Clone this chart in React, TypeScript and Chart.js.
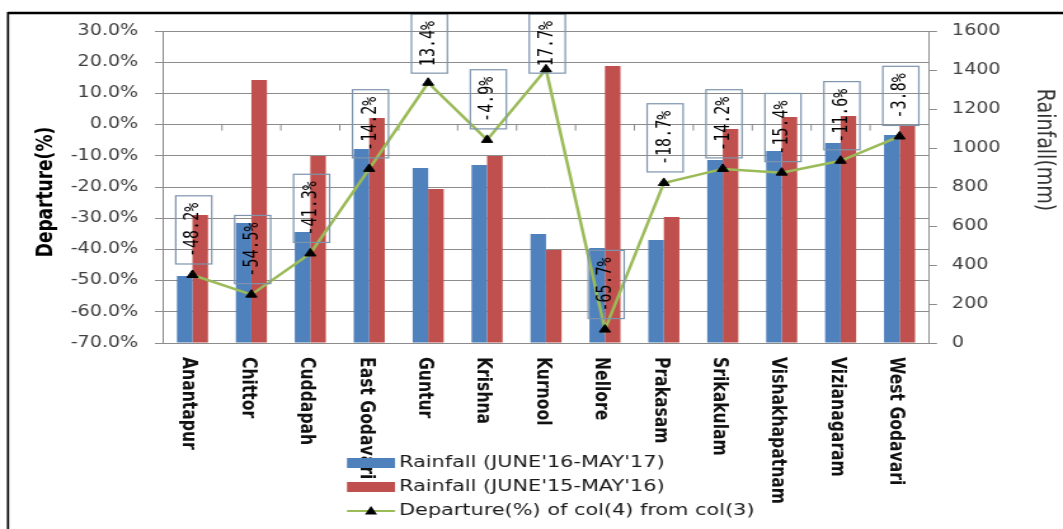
import { useEffect, useRef } from 'react';
import { Chart, registerables } from 'chart.js';

Chart.register(...registerables);

// ---- data ----
const districts = [
  'Anantapur',
  'Chittor',
  'Cuddapah',
  'East Godavari',
  'Guntur',
  'Krishna',
  'Kurnool',
  'Nellore',
  'Prakasam',
  'Srikakulam',
  'Vishakhapatnam',
  'Vizianagaram',
  'West Godavari',
];

// Rainfall in mm, June 2016 - May 2017
const rainfall2016_17 = [344, 615, 569, 995, 897, 913, 559, 487, 528, 939, 985, 1026, 1067];
// Rainfall in mm, June 2015 - May 2016
const rainfall2015_16 = [656, 1349, 959, 1154, 790, 959, 477, 1421, 646, 1097, 1159, 1164, 1118];
// Departure (%) of col(4) from col(3)
const departurePct = [-48.2, -54.5, -41.3, -14.2, 13.4, -4.9, 17.7, -65.7, -18.7, -14.2, -15.4, -11.6, -3.8];

const seriesLabels = [
  "Rainfall (JUNE'16-MAY'17)",
  "Rainfall (JUNE'15-MAY'16)",
  'Departure(%) of col(4) from col(3)',
];

const departureTicks = [-70, -60, -50, -40, -30, -20, -10, 0, 10, 20, 30];
const rainfallTicks = [0, 200, 400, 600, 800, 1000, 1200, 1400, 1600];

const leftTitle = 'Departure(%)';
const rightTitle = 'Rainfall(mm)';

// ---- layout ----
const VIEW_W = 1063;
const VIEW_H = 529;
const STRETCH = 1.27; // the drawing is widened horizontally on screen
const CANVAS_W = Math.round(VIEW_W / STRETCH);

const PLOT_LEFT = 163 / STRETCH;
const PLOT_RIGHT = 929 / STRETCH;
const PLOT_TOP = 31;
const PLOT_BOTTOM = 343;

const BLUE = '#4f81bd';
const RED = '#c0504d';
const GREEN = '#9bbb59';
const GRID = '#8c8c8c';
const TICK_TEXT = '#404040';

function drawTriangle(ctx: CanvasRenderingContext2D, x: number, y: number, r: number) {
  ctx.beginPath();
  ctx.moveTo(x, y - r);
  ctx.lineTo(x + r * 0.95, y + r * 0.7);
  ctx.lineTo(x - r * 0.95, y + r * 0.7);
  ctx.closePath();
  ctx.fill();
}

const decorPlugin = {
  id: 'decor',
  beforeDraw(chart: any) {
    const { ctx } = chart;
    ctx.save();
    ctx.fillStyle = '#ffffff';
    ctx.fillRect(0, 0, chart.width, chart.height);
    ctx.restore();
  },
  beforeDatasetsDraw(chart: any) {
    // category tick marks along the 0% line
    const { ctx } = chart;
    const xs = chart.scales.x;
    const y0 = chart.scales.y.getPixelForValue(0);
    ctx.save();
    ctx.strokeStyle = GRID;
    ctx.lineWidth = 1;
    for (let i = 1; i < districts.length; i++) {
      const x = (xs.getPixelForValue(i - 1) + xs.getPixelForValue(i)) / 2;
      ctx.beginPath();
      ctx.moveTo(x, y0);
      ctx.lineTo(x, y0 + 6);
      ctx.stroke();
    }
    ctx.restore();
  },
  afterDatasetsDraw(chart: any) {
    // boxed, vertical departure labels above each point
    const { ctx } = chart;
    const meta = chart.getDatasetMeta(2);
    ctx.save();
    ctx.font = '15px "DejaVu Sans Mono"';
    ctx.fillStyle = '#000';
    ctx.strokeStyle = '#7d94ad';
    ctx.lineWidth = 1.2;
    meta.data.forEach((pt: any, i: number) => {
      const text = `${departurePct[i].toFixed(1)}%`;
      const tw = ctx.measureText(text).width;
      const h = tw + 14;
      const w = 36 / STRETCH;
      let bottom = pt.y - 11;
      let top = bottom - h;
      if (top < 14) {
        top = 14;
        bottom = top + h;
      }
      const cx = pt.x + 1;
      ctx.strokeRect(cx - w / 2, top, w, h);
      ctx.save();
      ctx.translate(cx, (top + bottom) / 2);
      ctx.rotate(-Math.PI / 2);
      ctx.textAlign = 'center';
      ctx.textBaseline = 'middle';
      ctx.fillText(text, 0, 0);
      ctx.restore();
    });
    ctx.restore();
  },
  afterDraw(chart: any) {
    const { ctx } = chart;
    const xs = chart.scales.x;
    ctx.save();

    // district names, rotated to read downward
    ctx.font = 'bold 15.6px "DejaVu Sans"';
    ctx.fillStyle = '#111';
    ctx.textAlign = 'left';
    ctx.textBaseline = 'middle';
    chart.data.labels.forEach((d: string, i: number) => {
      const x = xs.getPixelForValue(i) - 3;
      ctx.save();
      ctx.translate(x, 357);
      ctx.rotate(Math.PI / 2);
      ctx.fillText(d, 0, 0);
      ctx.restore();
    });

    // axis titles
    ctx.save();
    ctx.font = 'bold 17px "DejaVu Sans"';
    ctx.fillStyle = '#000';
    ctx.textAlign = 'center';
    ctx.textBaseline = 'middle';
    ctx.translate(46 / STRETCH, 192);
    ctx.rotate(-Math.PI / 2);
    ctx.fillText(leftTitle, 0, 0);
    ctx.restore();

    ctx.save();
    ctx.font = '19px "DejaVu Sans"';
    ctx.fillStyle = '#333';
    ctx.textAlign = 'center';
    ctx.textBaseline = 'middle';
    ctx.translate(1044 / STRETCH, 150);
    ctx.rotate(Math.PI / 2);
    ctx.fillText(rightTitle, 0, 0);
    ctx.restore();

    // legend
    const rows = [463, 487, 511];
    const sx0 = 347 / STRETCH;
    const sx1 = 395 / STRETCH;
    const tx = 399 / STRETCH;
    ctx.font = '16.4px "DejaVu Sans"';
    ctx.textAlign = 'left';
    ctx.textBaseline = 'middle';
    chart.data.datasets.forEach((ds: any, i: number) => {
      const y = rows[i];
      if (ds.type === 'line') {
        ctx.strokeStyle = ds.borderColor;
        ctx.lineWidth = 2;
        ctx.beginPath();
        ctx.moveTo(sx0, y);
        ctx.lineTo(sx1, y);
        ctx.stroke();
        ctx.fillStyle = '#000';
        drawTriangle(ctx, (sx0 + sx1) / 2, y, 5);
      } else {
        ctx.fillStyle = ds.backgroundColor;
        ctx.fillRect(sx0, y - 5, sx1 - sx0, 10);
      }
      ctx.fillStyle = '#1a1a1a';
      ctx.fillText(ds.label, tx, y);
    });

    // outer frame
    ctx.strokeStyle = '#000';
    ctx.lineWidth = 2.5;
    ctx.beginPath();
    ctx.moveTo(8 / STRETCH, 13);
    ctx.lineTo(chart.width + 5, 13);
    ctx.stroke();
    ctx.lineWidth = 1.7;
    ctx.beginPath();
    ctx.moveTo(8 / STRETCH, 12);
    ctx.lineTo(8 / STRETCH, chart.height + 5);
    ctx.stroke();

    ctx.restore();
  },
};

export default function App() {
  const canvasRef = useRef<HTMLCanvasElement>(null);

  useEffect(() => {
    const canvas = canvasRef.current;
    if (!canvas) return;
    const tickFont = { family: '"DejaVu Sans"', size: 15 };
    const chart = new Chart(canvas, {
      type: 'bar',
      data: {
        labels: districts,
        datasets: [
          {
            type: 'bar',
            label: seriesLabels[0],
            data: rainfall2016_17,
            backgroundColor: BLUE,
            yAxisID: 'y1',
            order: 1,
            categoryPercentage: 0.527,
            barPercentage: 1,
          },
          {
            type: 'bar',
            label: seriesLabels[1],
            data: rainfall2015_16,
            backgroundColor: RED,
            yAxisID: 'y1',
            order: 2,
            categoryPercentage: 0.527,
            barPercentage: 1,
          },
          {
            type: 'line',
            label: seriesLabels[2],
            data: departurePct,
            borderColor: GREEN,
            borderWidth: 2.5,
            backgroundColor: '#000',
            pointStyle: 'triangle',
            pointRadius: 5,
            pointBackgroundColor: '#000',
            pointBorderColor: '#000',
            pointBorderWidth: 1,
            tension: 0,
            yAxisID: 'y',
            order: 0,
          },
        ],
      } as any,
      options: {
        responsive: false,
        animation: false,
        devicePixelRatio: 1,
        layout: { padding: { top: PLOT_TOP, bottom: VIEW_H - PLOT_BOTTOM, left: 0, right: 0 } },
        plugins: {
          legend: { display: false },
          tooltip: { enabled: false },
        },
        scales: {
          x: { display: false, offset: true },
          y: {
            position: 'left',
            min: -70,
            max: 30,
            afterBuildTicks: (s: any) => {
              s.ticks = departureTicks.map((v) => ({ value: v }));
            },
            afterFit: (s: any) => {
              s.width = PLOT_LEFT;
            },
            ticks: {
              font: tickFont,
              color: TICK_TEXT,
              padding: 13.3,
              callback: (v: any) => `${Number(v).toFixed(1)}%`,
            },
            grid: { color: GRID, tickColor: GRID, tickLength: 6.3, lineWidth: 1 },
            border: { display: true, color: GRID, width: 1 },
          },
          y1: {
            position: 'right',
            min: 0,
            max: 1600,
            afterBuildTicks: (s: any) => {
              s.ticks = rainfallTicks.map((v) => ({ value: v }));
            },
            afterFit: (s: any) => {
              s.width = CANVAS_W - PLOT_RIGHT;
            },
            ticks: {
              font: tickFont,
              color: TICK_TEXT,
              padding: 11.8,
              callback: (v: any) => String(v),
            },
            grid: { drawOnChartArea: false, color: GRID, tickColor: GRID, tickLength: 6.3 },
            border: { display: true, color: GRID, width: 1 },
          },
        },
      } as any,
      plugins: [decorPlugin],
    });
    return () => chart.destroy();
  }, []);

  return (
    <div
      style={{
        position: 'fixed',
        left: 0,
        top: 0,
        width: VIEW_W,
        height: VIEW_H,
        background: '#fff',
        overflow: 'hidden',
      }}
    >
      <canvas
        ref={canvasRef}
        width={CANVAS_W}
        height={VIEW_H}
        style={{ width: `${VIEW_W}px`, height: `${VIEW_H}px`, display: 'block' }}
      />
    </div>
  );
}
